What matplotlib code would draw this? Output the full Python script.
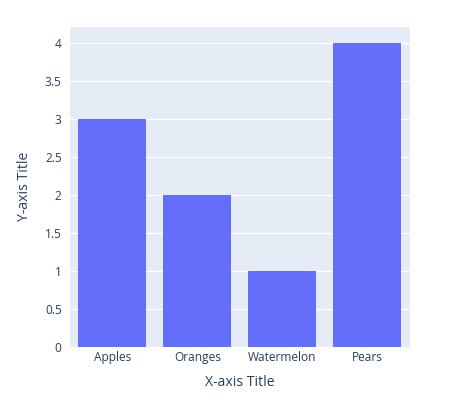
import matplotlib
matplotlib.use("Agg")
import matplotlib.pyplot as plt

fruits = ["Apples", "Oranges", "Watermelon", "Pears"]
counts = [3, 2, 1, 4]
yticks = [0, 0.5, 1, 1.5, 2, 2.5, 3, 3.5, 4]
ytick_labels = ["0", "0.5", "1", "1.5", "2", "2.5", "3", "3.5", "4"]

plt.rcParams['font.family'] = ['Open Sans', 'DejaVu Sans']
text_color = "#2a3f5f"

fig = plt.figure(figsize=(4.64, 4.15), dpi=100)
ax = fig.add_axes([70 / 464, 68.5 / 415, 340 / 464, 319.5 / 415])
ax.set_facecolor("#E5ECF6")

ax.bar(range(len(fruits)), counts, width=0.8, color="#636EFA", zorder=3)

ax.set_xlim(-0.5, len(fruits) - 0.5)
ax.set_ylim(0, 4.2105)
ax.set_xticks(range(len(fruits)))
ax.set_xticklabels(fruits)
ax.set_yticks(yticks)
ax.set_yticklabels(ytick_labels)

ax.grid(axis="y", color="white", linewidth=1, zorder=0)
ax.set_axisbelow(True)
for s in ax.spines.values():
    s.set_visible(False)
ax.tick_params(length=0, labelsize=8.6, colors=text_color, pad=6)
ax.tick_params(axis="x", pad=3)

ax.set_xlabel("X-axis Title", fontsize=10.1, color=text_color, labelpad=8)
ax.set_ylabel("Y-axis Title", fontsize=10.1, color=text_color, labelpad=9)

fig.savefig("out.png", dpi=100)
